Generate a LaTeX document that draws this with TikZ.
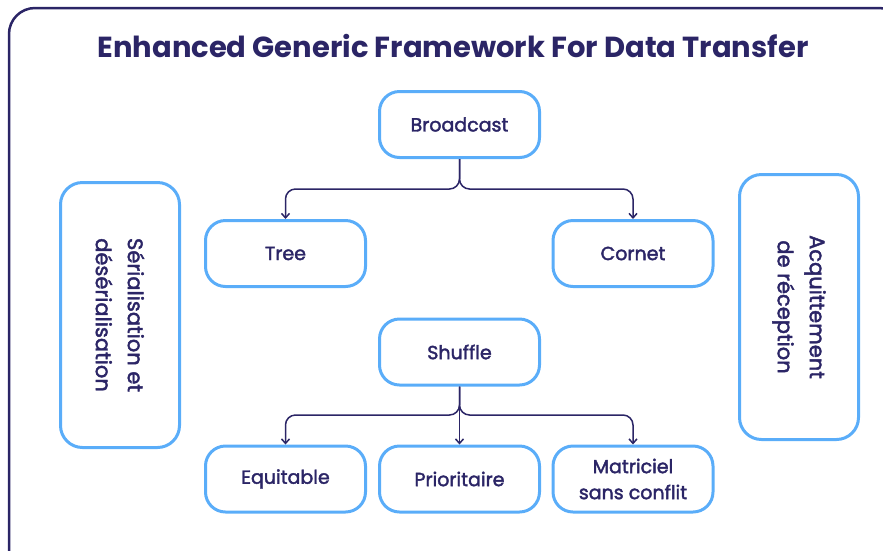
\documentclass[tikz,border=0pt]{standalone}
\usepackage{fontspec}
\setmainfont{Poppins}
\newfontfamily\nodefont{Poppins}[FakeBold=2]
\usetikzlibrary{arrows.meta}
\definecolor{navy}{HTML}{2B2566}
\definecolor{skyb}{HTML}{5AADF9}
\tikzset{
  box/.style={draw=skyb, line width=3pt, rounded corners=20pt, fill=white,
    minimum width=160pt, minimum height=66pt, align=center, text=navy,
    font=\nodefont\fontsize{19}{26}\selectfont, inner sep=2pt},
  sidebox/.style={draw=skyb, line width=3pt, rounded corners=22pt, fill=white,
    minimum width=119pt, minimum height=265pt},
  sidetext/.style={rotate=-90, align=center, text=navy,
    font=\nodefont\fontsize{21}{32}\selectfont},
  conn/.style={draw=navy, line width=1.5pt, rounded corners=10pt,
    -{Straight Barb[length=4.5pt,width=8pt]}},
  frame/.style={draw=navy, line width=2.5pt, rounded corners=26pt}
}
\begin{document}
\begin{tikzpicture}[x=1pt,y=-1pt]
\useasboundingbox (0,0) rectangle (883,550);
\begin{scope}
\clip (0,0) rectangle (883,550);
\path[frame] (9,8) rectangle (905,575);
\end{scope}
\node[text=navy, font=\fontsize{29}{33}\selectfont\bfseries] (title) at (453,46) {Enhanced Generic Framework For Data Transfer};

\node[box] (bc) at (459.5,124.5) {Broadcast};
\node[box] (tree) at (285.5,253.5) {Tree};
\node[box] (cornet) at (633,253.5) {Cornet};
\node[box] (sh) at (459.5,352) {Shuffle};
\node[box] (eq) at (285.5,479) {Equitable};
\node[box] (pr) at (459.5,479) {Prioritaire};
\node[box] (mat) at (633,479) {Matriciel\\sans conflit};

\node[sidebox] (ls) at (120,315) {};
\node[sidetext] (lst) at (ls.center) {Sérialisation et\\désérialisation};
\node[sidebox] (rs) at (799,307) {};
\node[sidetext] (rst) at (rs.center) {Acquittement\\de réception};

\coordinate (j1) at (459.5,189);
\coordinate (j2) at (459.5,415);
\draw[conn] (bc.south) -- (j1) -| (tree.north);
\draw[conn] (bc.south) -- (j1) -| (cornet.north);
\draw[conn] (sh.south) -- (j2) -| (eq.north);
\draw[conn] (sh.south) -- (j2) -| (mat.north);
\draw[conn] (sh.south) -- (pr.north);
\end{tikzpicture}
\end{document}
